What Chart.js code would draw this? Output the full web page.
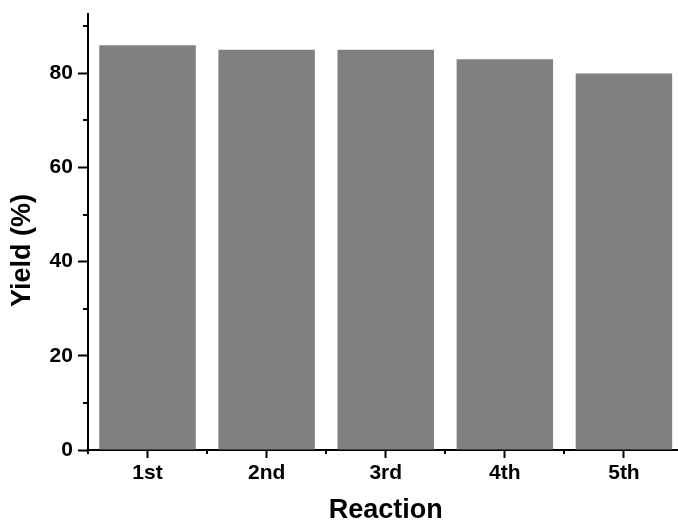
<!DOCTYPE html>
<html lang="en">

<head>
  <meta charset="UTF-8">
  <title>Yield per reaction</title>
  <style>
    html, body { margin: 0; padding: 0; background: #fff; overflow: hidden; }
    #wrap { position: absolute; left: 0; top: -4px; width: 690px; height: 534px; }
  </style>
</head>

<body>
  <div id="wrap">
    <canvas id="myChart" width="690" height="534"></canvas>
  </div>

  <script src="https://cdn.jsdelivr.net/npm/chart.js"></script>
  <script>
    // data
    const reactions = ["1st", "2nd", "3rd", "4th", "5th"];
    const yields = [86, 85, 85, 83, 80];
    const yMajorTicks = [0, 20, 40, 60, 80];
    const yMinorTicks = [10, 30, 50, 70, 90];

    const FONT = '"Liberation Sans", Arial, sans-serif';

    // small ticks between the labelled ones
    const minorTicks = {
      id: 'minorTicks',
      afterDraw(chart) {
        const ctx = chart.ctx;
        const x = chart.scales.x;
        const y = chart.scales.y;
        const area = chart.chartArea;
        ctx.save();
        ctx.strokeStyle = '#000';
        ctx.lineWidth = 2;
        ctx.beginPath();
        yMinorTicks.forEach(function (v) {
          const py = Math.round(y.getPixelForValue(v));
          ctx.moveTo(area.left - 5, py);
          ctx.lineTo(area.left, py);
        });
        const step = x.getPixelForValue(1) - x.getPixelForValue(0);
        for (let i = 0; i <= reactions.length; i++) {
          const px = Math.round(x.getPixelForValue(0) - step / 2 + i * step);
          ctx.moveTo(px, area.bottom);
          ctx.lineTo(px, area.bottom + 4);
        }
        ctx.stroke();
        ctx.restore();
      }
    };

    const ctx = document.getElementById('myChart');
    const chart = new Chart(ctx, {
      type: 'bar',
      data: {
        labels: reactions,
        datasets: [{
          label: 'Yield',
          data: yields,
          backgroundColor: '#808080',
          borderWidth: 0,
          categoryPercentage: 1.0,
          barPercentage: 0.81
        }]
      },
      options: {
        responsive: false,
        animation: false,
        devicePixelRatio: 1,
        layout: {
          padding: { top: 6.5, right: 6.5, bottom: 0, left: 0 }
        },
        plugins: {
          legend: { display: false },
          tooltip: { enabled: false }
        },
        scales: {
          x: {
            grid: {
              display: true,
              drawOnChartArea: false,
              offset: false,
              tickLength: 8,
              tickWidth: 2,
              tickColor: '#000'
            },
            border: { display: true, color: '#000', width: 2 },
            ticks: {
              color: '#000',
              padding: 3,
              font: { family: FONT, size: 21, weight: 'bold' }
            },
            title: {
              display: true,
              text: 'Reaction',
              color: '#000',
              padding: { top: 4.8, bottom: 3.6 },
              font: { family: FONT, size: 27, weight: 'bold' }
            }
          },
          y: {
            min: 0,
            max: 92.7,
            afterBuildTicks: function (scale) {
              scale.ticks = yMajorTicks.map(function (v) { return { value: v }; });
            },
            grid: {
              display: true,
              drawOnChartArea: false,
              tickLength: 10,
              tickWidth: 2,
              tickColor: '#000'
            },
            border: { display: true, color: '#000', width: 2 },
            ticks: {
              color: '#000',
              padding: 5,
              font: { family: FONT, size: 21, weight: 'bold' }
            },
            title: {
              display: true,
              text: 'Yield (%)     ',
              color: '#000',
              padding: { top: 6.3, bottom: 5.9 },
              font: { family: FONT, size: 27, weight: 'bold' }
            }
          }
        }
      },
      plugins: [minorTicks]
    });
  </script>
</body>

</html>
